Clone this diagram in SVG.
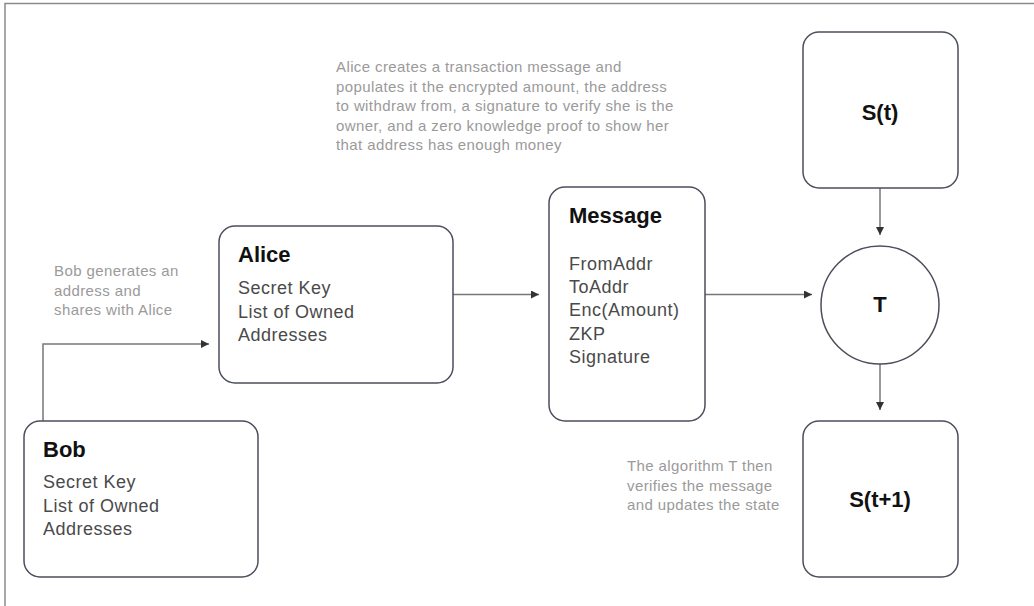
<svg xmlns="http://www.w3.org/2000/svg" width="1034" height="606" viewBox="0 0 1034 606">
<style>
.box{fill:#fff;stroke:#4b4f5c;stroke-width:1.5}
.title{font-family:"Liberation Sans",Arial,sans-serif;font-weight:bold;font-size:22px;fill:#111}
.body{font-family:"Liberation Sans",Arial,sans-serif;font-size:18px;letter-spacing:0.5px;fill:#4a4a4a}
.note{font-family:"Liberation Sans",Arial,sans-serif;font-size:15px;letter-spacing:0.4px;fill:#9a9a9a}
.conn{fill:none;stroke:#777;stroke-width:1.5}
</style>
<defs>
<marker id="arr" viewBox="0 0 10 10" refX="10" refY="5" markerWidth="8" markerHeight="8" markerUnits="userSpaceOnUse" orient="auto">
<path d="M0,0 L10,5 L0,10 z" fill="#333"/>
</marker>
</defs>
<rect width="1034" height="606" fill="#fff"/>
<path d="M5,606 V3.5 H1034" fill="none" stroke="#8a8a8a" stroke-width="1.5"/>
<g id="connectors">
<path class="conn" d="M43,421 V344 H209" marker-end="url(#arr)"/>
<path class="conn" d="M453,294.5 H539" marker-end="url(#arr)"/>
<path class="conn" d="M705,294.5 H812" marker-end="url(#arr)"/>
<path class="conn" d="M880,188 V235" marker-end="url(#arr)"/>
<path class="conn" d="M880,364 V410" marker-end="url(#arr)"/>
</g>
<g id="note-alice">
<text class="note"><tspan x="336" y="72">Alice creates a transaction message and</tspan><tspan x="336" y="91.5">populates it the encrypted amount, the address</tspan><tspan x="336" y="111">to withdraw from, a signature to verify she is the</tspan><tspan x="336" y="130.5">owner, and a zero knowledge proof to show her</tspan><tspan x="336" y="150">that address has enough money</tspan></text>
</g>
<g id="note-bob">
<text class="note"><tspan x="54" y="276">Bob generates an</tspan><tspan x="54" y="295.5">address and</tspan><tspan x="54" y="315">shares with Alice</tspan></text>
</g>
<g id="note-t">
<text class="note"><tspan x="627" y="471">The algorithm T then</tspan><tspan x="627" y="490.5">verifies the message</tspan><tspan x="627" y="510">and updates the state</tspan></text>
</g>
<g id="node-bob">
<rect class="box" x="24" y="421" width="234" height="156" rx="16"/>
<text class="title" x="43" y="457">Bob</text>
<text class="body"><tspan x="43" y="488">Secret Key</tspan><tspan x="43" y="511.5">List of Owned</tspan><tspan x="43" y="535">Addresses</tspan></text>
</g>
<g id="node-alice">
<rect class="box" x="219" y="226" width="234" height="157" rx="16"/>
<text class="title" x="238" y="262">Alice</text>
<text class="body"><tspan x="238" y="294">Secret Key</tspan><tspan x="238" y="317.5">List of Owned</tspan><tspan x="238" y="341">Addresses</tspan></text>
</g>
<g id="node-message">
<rect class="box" x="549" y="187" width="156" height="234" rx="16"/>
<text class="title" x="569" y="223">Message</text>
<text class="body"><tspan x="569" y="270">FromAddr</tspan><tspan x="569" y="293">ToAddr</tspan><tspan x="569" y="316">Enc(Amount)</tspan><tspan x="569" y="339.5">ZKP</tspan><tspan x="569" y="363">Signature</tspan></text>
</g>
<g id="node-st">
<rect class="box" x="803" y="32" width="155" height="156" rx="16"/>
<text class="title" x="880" y="120" text-anchor="middle">S(t)</text>
</g>
<g id="node-t">
<circle class="box" cx="880" cy="305" r="59"/>
<text class="title" x="880" y="312" text-anchor="middle">T</text>
</g>
<g id="node-st1">
<rect class="box" x="803" y="421" width="155" height="156" rx="16"/>
<text class="title" x="880" y="507" text-anchor="middle">S(t+1)</text>
</g>
</svg>
